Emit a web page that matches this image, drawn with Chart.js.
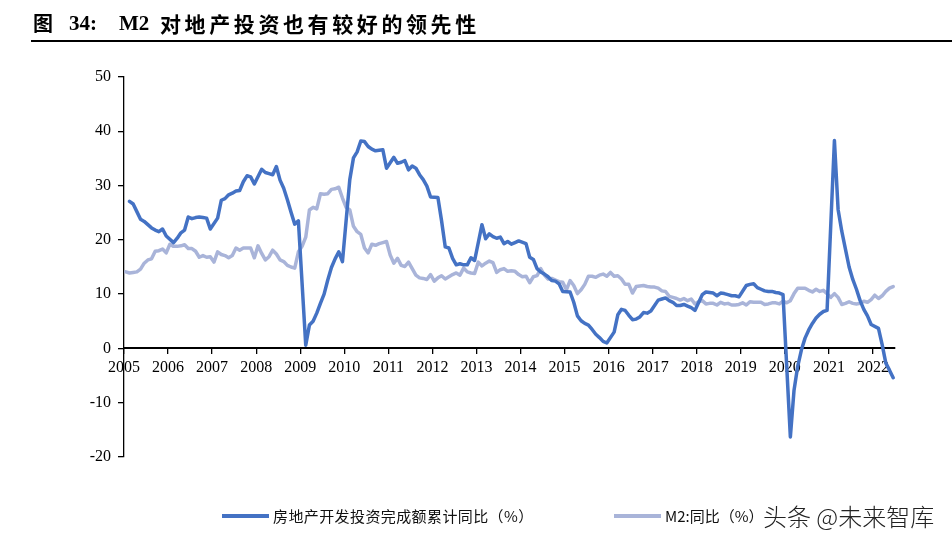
<!DOCTYPE html>
<html>
<head>
<meta charset="utf-8">
<script src="https://cdn.jsdelivr.net/npm/chart.js@4.4.1/dist/chart.umd.min.js"></script>
<style>
html,body{margin:0;padding:0;background:#fff;}
#wrap{position:relative;width:952px;height:543px;overflow:hidden;background:#fff;}
#c{position:absolute;left:0;top:0;}
.t{position:absolute;white-space:nowrap;color:#000;}
.cjk{font-family:'Noto Sans CJK SC',sans-serif;}
.ser{font-family:'Liberation Serif','Times New Roman',serif;}
</style>
</head>
<body>
<div id="wrap">
  <canvas id="c" width="952" height="543"></canvas>

  <div class="t cjk" style="left:33px;top:9px;font-size:20px;font-weight:bold;line-height:28px;">图</div>
  <div class="t ser" style="left:69px;top:9px;font-size:21px;font-weight:bold;line-height:28px;">34:</div>
  <div class="t ser" style="left:119px;top:9px;font-size:21px;font-weight:bold;line-height:28px;">M2</div>
  <div class="t cjk" style="left:160px;top:9px;font-size:21px;font-weight:bold;line-height:28px;letter-spacing:3.6px;">对地产投资也有较好的领先性</div>
  <div style="position:absolute;left:31px;top:40px;width:921px;height:2px;background:#000;"></div>

  <div style="position:absolute;left:222px;top:514px;width:47px;height:3.5px;background:#4472C4;"></div>
  <div class="t cjk" style="left:273px;top:505px;font-size:15px;line-height:22px;color:#111;letter-spacing:0.4px;">房地产开发投资完成额累计同比（%）</div>
  <div style="position:absolute;left:614px;top:514px;width:47px;height:3.5px;background:#A9B4D9;"></div>
  <div class="t cjk" style="left:665px;top:505px;font-size:15px;line-height:22px;color:#111;">M2:同比（%）</div>
  <div class="t cjk" style="left:763px;top:500px;font-size:24px;line-height:32px;font-weight:300;color:#222;">头条 @未来智库</div>
</div>

<script>
// ---- data (monthly, Jan..Dec each year, from 2005) ----
const startYear = 2005;
const yearTicks = [2005,2006,2007,2008,2009,2010,2011,2012,2013,2014,2015,2016,2017,2018,2019,2020,2021,2022];
const yTicks = [-20,-10,0,10,20,30,40,50];

// 房地产开发投资完成额累计同比（%） — no January figure
const realEstateYoY = [
  null,27.1,26.6,25.2,23.8,23.4,22.8,22.2,21.8,21.5,22.0,20.7, // 2005
  null,19.5,20.3,21.3,21.8,24.2,23.9,24.1,24.2,24.1,24.0,22.0, // 2006
  null,24.0,27.3,27.6,28.3,28.6,29.0,29.1,30.7,31.8,31.6,30.3, // 2007
  null,33.0,32.4,32.2,32.0,33.5,31.0,29.5,27.4,25.1,22.9,23.5, // 2008
  null,0.6,4.3,5.0,6.5,8.3,10.0,12.6,14.9,16.5,17.8,16.0,      // 2009
  null,31.1,35.1,36.2,38.2,38.1,37.2,36.7,36.4,36.5,36.6,33.2, // 2010
  null,35.2,34.1,34.3,34.6,32.9,33.6,33.2,32.0,31.1,29.9,27.9, // 2011
  null,27.8,23.5,18.7,18.5,16.6,15.4,15.6,15.4,15.4,16.7,16.2, // 2012
  null,22.8,20.2,21.1,20.6,20.3,20.5,19.3,19.7,19.2,19.5,19.8, // 2013
  null,19.3,16.8,16.4,14.7,14.1,13.7,13.2,12.5,12.4,11.9,10.5, // 2014
  null,10.4,8.5,6.0,5.1,4.6,4.3,3.5,2.6,2.0,1.3,1.0,           // 2015
  null,3.0,6.2,7.2,7.0,6.1,5.3,5.4,5.8,6.6,6.5,6.9,            // 2016
  null,8.9,9.1,9.3,8.8,8.5,7.9,7.9,8.1,7.8,7.5,7.0,            // 2017
  null,9.9,10.4,10.3,10.2,9.7,10.2,10.1,9.9,9.7,9.7,9.5,       // 2018
  null,11.6,11.8,11.9,11.2,10.9,10.6,10.5,10.5,10.3,10.2,9.9,  // 2019
  null,-16.3,-7.7,-3.3,-0.3,1.9,3.4,4.6,5.6,6.3,6.8,7.0,       // 2020
  null,38.3,25.6,21.6,18.3,15.0,12.7,10.9,8.8,7.2,6.0,4.4,     // 2021
  null,3.7,0.7,-2.7,-4.0,-5.4                                  // 2022
];

// M2:同比（%）
const m2YoY = [
  14.1,13.9,14.0,14.1,14.6,15.7,16.3,16.5,17.9,18.0,18.3,17.6, // 2005
  19.2,18.8,18.8,18.9,19.1,18.4,18.4,17.9,16.8,17.1,16.8,16.9, // 2006
  15.9,17.8,17.3,17.1,16.7,17.1,18.5,18.1,18.5,18.5,18.5,16.7, // 2007
  18.9,17.5,16.3,16.9,18.1,17.4,16.3,16.0,15.3,15.0,14.8,17.8, // 2008
  18.8,20.5,25.5,26.0,25.7,28.5,28.4,28.5,29.3,29.4,29.7,27.7, // 2009
  26.0,25.5,22.5,21.5,21.0,18.5,17.6,19.2,19.0,19.3,19.5,19.7, // 2010
  17.2,15.7,16.6,15.3,15.1,15.9,14.7,13.5,13.0,12.9,12.7,13.6, // 2011
  12.4,13.0,13.4,12.8,13.2,13.6,13.9,13.5,14.8,14.1,13.9,13.8, // 2012
  15.9,15.2,15.7,16.1,15.8,14.0,14.5,14.7,14.2,14.3,14.2,13.6, // 2013
  13.2,13.3,12.1,13.2,13.4,14.7,13.5,12.8,12.9,12.6,12.3,12.2, // 2014
  10.8,12.5,11.6,10.1,10.8,11.8,13.3,13.3,13.1,13.5,13.7,13.3, // 2015
  14.0,13.3,13.4,12.8,11.8,11.8,10.2,11.4,11.5,11.6,11.4,11.3, // 2016
  11.3,11.1,10.6,10.5,9.6,9.4,9.2,8.9,9.2,8.8,9.1,8.2,         // 2017
  8.6,8.8,8.2,8.3,8.3,8.0,8.5,8.2,8.3,8.0,8.0,8.1,             // 2018
  8.4,8.0,8.6,8.5,8.5,8.5,8.1,8.2,8.4,8.4,8.2,8.7,             // 2019
  8.4,8.8,10.1,11.1,11.1,11.1,10.7,10.4,10.9,10.5,10.7,10.1,   // 2020
  9.4,10.1,9.4,8.1,8.3,8.6,8.3,8.2,8.3,8.7,8.5,9.0,            // 2021
  9.8,9.2,9.7,10.5,11.1,11.4                                   // 2022
];

// month index -> position on the time axis (middle of month)
function toPoints(arr) {
  const pts = [];
  arr.forEach((v, i) => {
    if (v === null) return;
    const yr = startYear + Math.floor(i / 12);
    const m = i % 12;
    pts.push({ x: yr + (m + 0.5) / 12, y: v });
  });
  return pts;
}

const axisFont = { family: "'Liberation Serif','Times New Roman',serif", size: 16 };

new Chart(document.getElementById('c').getContext('2d'), {
  type: 'line',
  data: {
    datasets: [
      {
        label: '房地产开发投资完成额累计同比（%）',
        data: toPoints(realEstateYoY),
        borderColor: '#4472C4',
        borderWidth: 3.5,
        pointRadius: 0,
        tension: 0,
        fill: false,
        borderJoinStyle: 'round',
        borderCapStyle: 'round'
      },
      {
        label: 'M2:同比（%）',
        data: toPoints(m2YoY),
        borderColor: '#A9B4D9',
        borderWidth: 3.5,
        pointRadius: 0,
        tension: 0,
        fill: false,
        borderJoinStyle: 'round',
        borderCapStyle: 'round'
      }
    ]
  },
  options: {
    responsive: false,
    animation: false,
    devicePixelRatio: 1,
    layout: { padding: { left: 64, right: 57, top: 77, bottom: 86 } },
    plugins: { legend: { display: false }, tooltip: { enabled: false } },
    scales: {
      x: {
        type: 'linear',
        min: 2005,
        max: 2022.5,
        position: { y: 0 },
        afterBuildTicks: (ax) => { ax.ticks = yearTicks.map(v => ({ value: v })); },
        afterFit: (s) => { s.height = 0; },
        grid: { display: true, drawOnChartArea: false, drawTicks: true, tickLength: 5, color: '#000', lineWidth: 1.3 },
        border: { display: true, color: '#000', width: 2 },
        ticks: { autoSkip: false, maxRotation: 0, minRotation: 0, padding: 5, color: '#000', font: axisFont, callback: (v) => String(v) }
      },
      y: {
        type: 'linear',
        min: -20,
        max: 50,
        afterBuildTicks: (ax) => { ax.ticks = yTicks.map(v => ({ value: v })); },
        afterFit: (s) => { s.width = 60; },
        grid: { display: true, drawOnChartArea: false, drawTicks: true, tickLength: 6, color: '#000', lineWidth: 1.3 },
        border: { display: true, color: '#000', width: 1.3 },
        ticks: { padding: 7, color: '#000', font: axisFont, callback: (v) => String(v) }
      }
    }
  }
});
</script>
</body>
</html>
